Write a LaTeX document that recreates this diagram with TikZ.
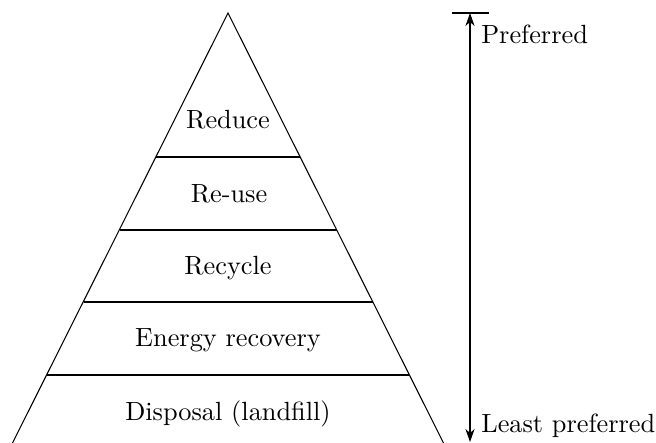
\documentclass[tikz,border=0pt]{standalone}
\usepackage{tikz}
\usetikzlibrary{positioning,arrows.meta}

\begin{document}
\begin{tikzpicture}[x=0.38pt, y=-0.38pt, thin,
		level/.style = {anchor=base},
		side/.style = {anchor=base west}]
		\useasboundingbox (0,0) rectangle (656,443);
		% corners of the pyramid
		\coordinate (top) at (228,13);
		\coordinate (bl) at (12.5,443);
		\coordinate (br) at (443.5,443);
		\coordinate (l1) at (156,157);
		\coordinate (r1) at (300,157);
		\coordinate (l2) at (119.5,230);
		\coordinate (r2) at (336.5,230);
		\coordinate (l3) at (83.5,302);
		\coordinate (r3) at (372.5,302);
		\coordinate (l4) at (47,375);
		\coordinate (r4) at (409,375);
		\draw (bl) -- (top) -- (br);
		\draw (l1) -- (r1);
		\draw (l2) -- (r2);
		\draw (l3) -- (r3);
		\draw (l4) -- (r4);
		% levels
		\node[level] (reduce) at (228,129) {Reduce};
		\node[level] (reuse) at (229,203) {Re-use};
		\node[level] (recycle) at (228,275) {Recycle};
		\node[level] (energy) at (228,347) {Energy recovery};
		\node[level] (disposal) at (228,421) {Disposal (landfill)};
		% scale on the right
		\coordinate (barl) at (452,13);
		\coordinate (barr) at (489,13);
		\coordinate (up) at (470,13);
		\coordinate (down) at (470,442);
		\draw (barl) -- (barr);
		\draw[{Stealth[length=5pt,width=3.5pt]}-{Stealth[length=5pt,width=3.5pt]}] (up) -- (down);
		\node[side] (pref) at (472,44) {Preferred};
		\node[side] (least) at (472,433) {Least preferred};
	\end{tikzpicture}
\end{document}
